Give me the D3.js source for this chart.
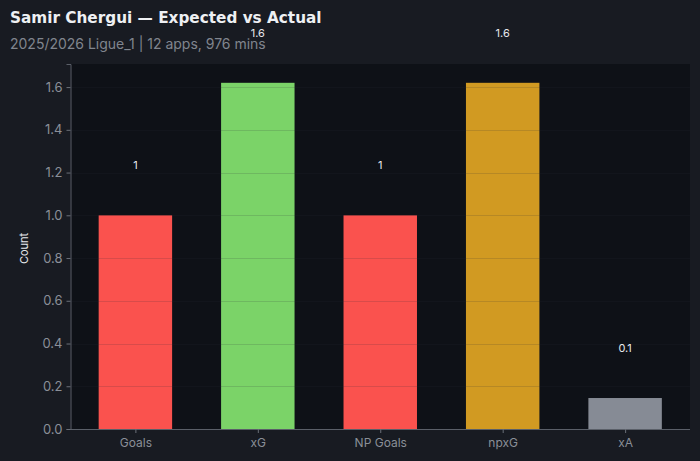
<!DOCTYPE html>
<html><head><meta charset="utf-8">
<script src="https://cdn.jsdelivr.net/npm/d3@7"></script>
<style>
html,body{margin:0;padding:0;background:#181b22;}
svg{display:block;}
</style></head>
<body>
<svg id="chart" width="700" height="461"></svg>
<script>
const categories = ["Goals", "xG", "NP Goals", "npxG", "xA"];
const values = [1, 1.62, 1, 1.62, 0.145];
const valueLabels = ["1", "1.6", "1", "1.6", "0.1"];
const barColors = ["#fa524e", "#7bd368", "#fa524e", "#d19a22", "#868b95"];
const yTicks = [0, 0.2, 0.4, 0.6, 0.8, 1.0, 1.2, 1.4, 1.6];
const titleText = "Samir Chergui — Expected vs Actual";
const subtitleText = "2025/2026 Ligue_1 | 12 apps, 976 mins";

const svg = d3.select("#chart");
const W = 700, H = 461;
const m = {left: 70.5, right: 690, top: 64, bottom: 429};

svg.append("rect").attr("width", W).attr("height", H).attr("fill", "#181b22");
svg.append("rect").attr("x", m.left).attr("y", m.top)
  .attr("width", m.right - m.left).attr("height", m.bottom - m.top).attr("fill", "#0e1117");

const x = d3.scaleLinear().domain([-0.53, 4.53]).range([m.left, m.right]);
const y = d3.scaleLinear().domain([0, 1.708]).range([m.bottom, m.top]);
const bw = 0.6;

// bars
svg.append("g").selectAll("rect").data(values).join("rect")
  .attr("x", (d, i) => x(i - bw / 2))
  .attr("width", (d, i) => x(i + bw / 2) - x(i - bw / 2))
  .attr("y", d => y(d))
  .attr("height", d => y(0) - y(d))
  .attr("fill", (d, i) => barColors[i]);

// gridlines on top
svg.append("g").selectAll("line").data(yTicks.slice(1)).join("line")
  .attr("x1", m.left).attr("x2", m.right)
  .attr("y1", d => Math.round(y(d)) + 0.5).attr("y2", d => Math.round(y(d)) + 0.5)
  .attr("stroke", "#2a2e36").attr("stroke-opacity", 0.16).attr("stroke-width", 1);

// value labels
svg.append("g").selectAll("text").data(values).join("text")
  .attr("x", (d, i) => x(i))
  .attr("y", d => y(d + 0.233))
  .attr("dy", "0.35em")
  .attr("text-anchor", "middle")
  .attr("fill", "#e6e8ec")
  .attr("font-family", "Inter, 'DejaVu Sans', sans-serif")
  .attr("font-size", 11)
  .text((d, i) => valueLabels[i]);

// y axis
const yAxis = d3.axisLeft(y).tickValues(yTicks).tickFormat(d3.format(".1f")).tickSize(4).tickPadding(4);
const gy = svg.append("g").attr("transform", `translate(${m.left},0)`).call(yAxis);
gy.select(".domain").attr("stroke", "#5a5f68");
gy.selectAll(".tick line").attr("stroke", "#6a6f78");
gy.selectAll(".tick text").attr("fill", "#8a8f98").attr("font-size", 13)
  .attr("font-family", "Inter, 'DejaVu Sans', sans-serif");

// x axis
const xAxis = d3.axisBottom(x).tickValues(d3.range(categories.length))
  .tickFormat(i => categories[i]).tickSize(4).tickPadding(5);
const gx = svg.append("g").attr("transform", `translate(0,${m.bottom})`).call(xAxis);
gx.select(".domain").attr("stroke", "#5a5f68").attr("d", `M${m.left},0.5H${m.right}`);
gx.selectAll(".tick line").attr("stroke", "#6a6f78");
gx.selectAll(".tick text").attr("fill", "#8a8f98").attr("font-size", 12)
  .attr("font-family", "Inter, 'DejaVu Sans', sans-serif");

// y label
svg.append("text")
  .attr("transform", `translate(28,${(m.top + m.bottom) / 2 + 2}) rotate(-90)`)
  .attr("text-anchor", "middle")
  .attr("fill", "#e6e8ec")
  .attr("font-family", "Inter, 'DejaVu Sans', sans-serif")
  .attr("font-size", 11)
  .text("Count");

// title, fitted to the reference width
const title = svg.append("text").attr("x", 10).attr("y", 23)
  .attr("fill", "#eef0f3").attr("font-weight", "bold")
  .attr("font-family", "'DejaVu Sans', sans-serif").attr("font-size", 15)
  .text(titleText);
const tw = title.node().getComputedTextLength();
if (tw > 0) title.attr("font-size", Math.min(16.5, 15 * 312 / tw));

const sub = svg.append("text").attr("x", 10).attr("y", 49)
  .attr("fill", "#80858e")
  .attr("font-family", "Inter, 'DejaVu Sans', sans-serif").attr("font-size", 14)
  .text(subtitleText);
const sw = sub.node().getComputedTextLength();
if (sw > 0) sub.attr("font-size", 14 * 256 / sw);
</script>
</body></html>
